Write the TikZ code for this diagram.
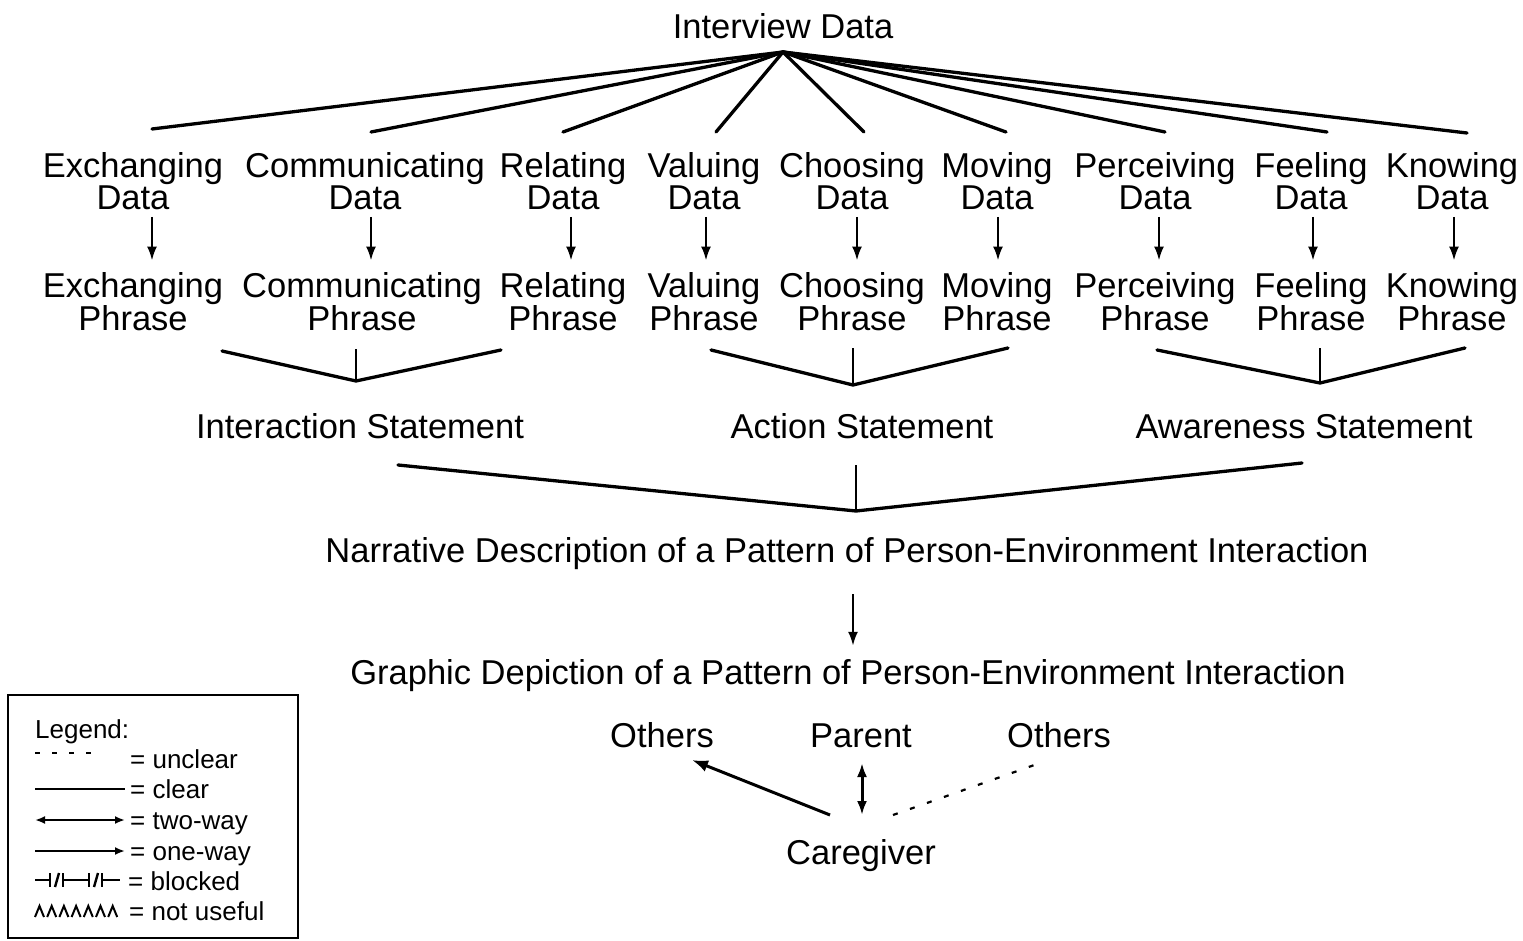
\documentclass[tikz,border=0pt]{standalone}
\usepackage{fontspec}
\setmainfont{Liberation Sans}
\usetikzlibrary{arrows.meta,calc}

\begin{document}
\begin{tikzpicture}[x=1pt,y=-1pt,
  lbl/.style={inner sep=0pt, font=\fontsize{34.5}{32}\selectfont, align=center},
  one/.style={inner sep=0pt, font=\fontsize{34.5}{32}\selectfont, anchor=base},
  fan/.style={line width=3.3pt, line cap=round},
  stem/.style={line width=1.8pt},
  arr/.style={line width=2.2pt, -{Latex[length=14pt,width=10pt]}},
  bigarr/.style={line width=3pt, -{Latex[length=16pt,width=12pt]}},
  dblarr/.style={line width=3pt, {Latex[length=14pt,width=10pt]}-{Latex[length=14pt,width=10pt]}},
  leg/.style={inner sep=0pt, font=\fontsize{26}{30}\selectfont, anchor=base west},
  legline/.style={line width=2.2pt},
  legtip/.style={legline, -{Latex[length=10pt,width=8pt]}},
]
\useasboundingbox (0,0) rectangle (1523,941);

% ---- top: interview data fanning out to the nine categories
\node[one] (iv) at (783,39) {Interview Data};
\coordinate (apex) at (783,52);

\node[lbl] (xd)  at (133,181) {Exchanging\\Data};
\node[lbl] (cd)  at (365,181) {Communicating\\Data};
\node[lbl] (rd)  at (563,181) {Relating\\Data};
\node[lbl] (vd)  at (704,181) {Valuing\\Data};
\node[lbl] (chd) at (852,181) {Choosing\\Data};
\node[lbl] (md)  at (997,181) {Moving\\Data};
\node[lbl] (pd)  at (1155,181) {Perceiving\\Data};
\node[lbl] (fd)  at (1311,181) {Feeling\\Data};
\node[lbl] (kd)  at (1452,181) {Knowing\\Data};

\coordinate (f1) at (152,129);
\coordinate (f2) at (371,132);
\coordinate (f3) at (563,132);
\coordinate (f4) at (716,132);
\coordinate (f5) at (864,132);
\coordinate (f6) at (1006,132);
\coordinate (f7) at (1165,132);
\coordinate (f8) at (1327,132);
\coordinate (f9) at (1467,133);
\foreach \f in {f1,f2,f3,f4,f5,f6,f7,f8,f9}
  \draw[fan] (apex) -- (\f);

% ---- phrases
\node[lbl] (xp)  at (133,302) {Exchanging\\Phrase};
\node[lbl] (cp)  at (362,302) {Communicating\\Phrase};
\node[lbl] (rp)  at (563,302) {Relating\\Phrase};
\node[lbl] (vp)  at (704,302) {Valuing\\Phrase};
\node[lbl] (chp) at (852,302) {Choosing\\Phrase};
\node[lbl] (mp)  at (997,302) {Moving\\Phrase};
\node[lbl] (pp)  at (1155,302) {Perceiving\\Phrase};
\node[lbl] (fp)  at (1311,302) {Feeling\\Phrase};
\node[lbl] (kp)  at (1452,302) {Knowing\\Phrase};

% each arrow sits a little right of its label centre
\foreach \d/\p/\s/\t in {xd/xp/19/19, cd/cp/6/9, rd/rp/8/8, vd/vp/2/2, chd/chp/5/5,
                         md/mp/1/1, pd/pp/4/4, fd/fp/2/2, kd/kp/2/2}
  \draw[arr] ([xshift=\s pt,yshift=-7pt]\d.south) -- ([xshift=\t pt,yshift=12pt]\p.north);

% ---- phrases merging into statements
\coordinate (iL) at (222,351);  \coordinate (iV) at (356,381);
\coordinate (iR) at (501,350);  \coordinate (iT) at (356,349);
\coordinate (aL) at (711,350);  \coordinate (aV) at (853,385);
\coordinate (aR) at (1008,348); \coordinate (aT) at (853,348);
\coordinate (wL) at (1157,350); \coordinate (wV) at (1320,383);
\coordinate (wR) at (1465,348); \coordinate (wT) at (1320,348);
\foreach \l/\v/\r/\t in {iL/iV/iR/iT, aL/aV/aR/aT, wL/wV/wR/wT}{
  \draw[fan, line join=miter] (\l) -- (\v) -- (\r);
  \draw[stem] (\t) -- (\v);
}

\node[one] (is) at (360,438) {Interaction Statement};
\node[one] (as) at (862,438) {Action Statement};
\node[one] (ws) at (1304,438) {Awareness Statement};

% ---- statements merging into the narrative
\coordinate (nL) at (398,465); \coordinate (nV) at (856,511);
\coordinate (nR) at (1302,463); \coordinate (nT) at (856,465);
\draw[fan, line join=miter] (nL) -- (nV) -- (nR);
\draw[stem] (nT) -- (nV);

\node[one] (nar) at (847,562) {Narrative Description of a Pattern of Person-Environment Interaction};
\node[one] (gr)  at (848,684) {Graphic Depiction of a Pattern of Person-Environment Interaction};
\draw[arr] ([xshift=6pt,yshift=-25pt]nar.south) -- ([xshift=5pt,yshift=13pt]gr.north);

% ---- graphic depiction
\node[one] (ol) at (662,747) {Others};
\node[one] (pa) at (861,747) {Parent};
\node[one] (orr) at (1059,747) {Others};
\node[one] (cg) at (861,864) {Caregiver};

\coordinate (c1) at (830,815); \coordinate (o1) at (692,760);
\coordinate (c2) at (862,815); \coordinate (p2) at (862,763);
\coordinate (c3) at (893,815); \coordinate (o3) at (1040,763);
\draw[bigarr] (c1) -- (o1);
\draw[dblarr] (c2) -- (p2);
\draw[line width=2.2pt, dash pattern=on 5pt off 13pt] (c3) -- (o3);

% ---- legend
\draw[line width=1.5pt] (8,695) rectangle (298,938);
\node[leg] (lg) at (35,738) {Legend:};
\node[leg] (l1) at (130,768) {= unclear};
\node[leg] (l2) at (130,798) {= clear};
\node[leg] (l3) at (130,829) {= two-way};
\node[leg] (l4) at (130,860) {= one-way};
\node[leg] (l5) at (128,890) {= blocked};
\node[leg] (l6) at (129,920) {= not useful};

\draw[legline, dash pattern=on 5pt off 12pt] (35,753) -- (93,753);
\draw[legline] (35,789) -- (125,789);
\draw[legline, {Latex[length=10pt,width=8pt]}-{Latex[length=10pt,width=8pt]}] (35,820) -- (125,820);
\draw[legtip] (35,851) -- (125,851);
% blocked: line broken twice by a bar, a slash and a bar
\begin{scope}[line width=2.4pt]
  \draw (35,880) -- (50,880);
  \draw (50,873) -- (50,887);
  \draw (55,887) -- (59,873);
  \draw (63,873) -- (63,887);
  \draw (63,880) -- (89,880);
  \draw (89,873) -- (89,887);
  \draw (94,887) -- (98,873);
  \draw (102,873) -- (102,887);
  \draw (102,880) -- (120,880);
\end{scope}
% not useful: a row of carets
\foreach \i in {0,...,6}
  \draw[line width=2pt, line join=miter] (35+12.2*\i,917) -- ++(4.5,-11) -- ++(4.5,11);
\end{tikzpicture}
\end{document}
